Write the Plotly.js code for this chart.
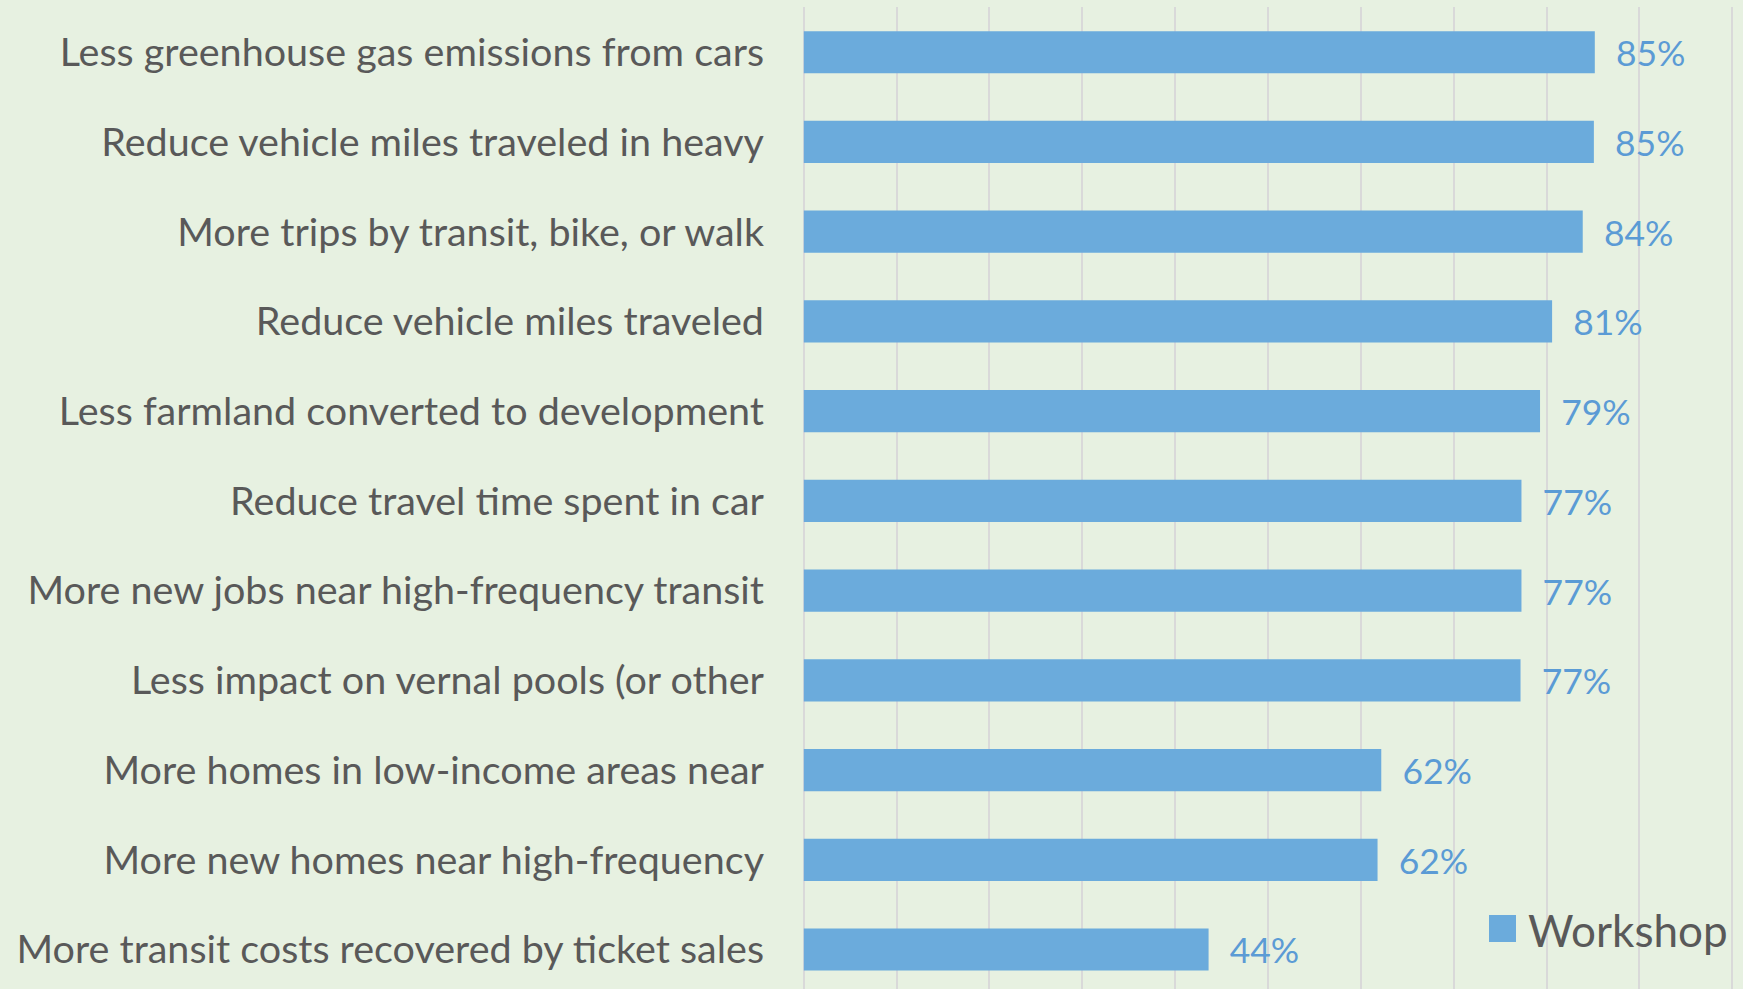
<!DOCTYPE html>
<html>
<head>
<meta charset="utf-8">
<script src="https://cdn.plot.ly/plotly-3.0.1.min.js"></script>
<style>
  html, body { margin: 0; padding: 0; background: #E7F1E1; }
  #chart { width: 1743px; height: 989px; }
</style>
</head>
<body>
<div id="chart"></div>
<script>
const categories = [
  "Less greenhouse gas emissions from cars",
  "Reduce vehicle miles traveled in heavy",
  "More trips by transit, bike, or walk",
  "Reduce vehicle miles traveled",
  "Less farmland converted to development",
  "Reduce travel time spent in car",
  "More new jobs near high-frequency transit",
  "Less impact on vernal pools (or other",
  "More homes in low-income areas near",
  "More new homes near high-frequency",
  "More transit costs recovered by ticket sales"
];
const workshopValues = [0.852, 0.851, 0.839, 0.806, 0.793, 0.773, 0.773, 0.772, 0.622, 0.618, 0.436];
const seriesName = "Workshop";

const bg = "#E7F1E1";
const barColor = "#6BABDC";
const labelColor = "#5B9BD5";
const textColor = "#595959";
const fontFamily = "Lato, 'Open Sans', sans-serif";

const plotL = 801, plotR = 1735, plotT = 7, plotB = 989;
const px = (x) => (x - plotL) / (plotR - plotL);
const py = (y) => (plotB - y) / (plotB - plotT);

const trace = {
  type: "bar",
  orientation: "h",
  name: seriesName,
  y: categories,
  x: workshopValues,
  marker: { color: barColor, line: { width: 0 } },
  texttemplate: "\u00a0\u00a0%{x:.0%}",
  textposition: "outside",
  cliponaxis: false,
  textfont: { family: fontFamily, size: 39.5, color: labelColor },
  showlegend: false,
  hoverinfo: "skip"
};

const layout = {
  width: 1743,
  height: 989,
  paper_bgcolor: bg,
  plot_bgcolor: bg,
  margin: { l: plotL, r: 1743 - plotR, t: plotT, b: 989 - plotB, pad: 0 },
  bargap: 0.53,
  showlegend: false,
  font: { family: fontFamily, color: textColor },
  xaxis: {
    range: [-0.003, 1.003],
    dtick: 0.1,
    tick0: 0,
    showgrid: true,
    gridcolor: "#D9D9D9",
    gridwidth: 2,
    zeroline: false,
    showticklabels: false,
    showline: false,
    ticks: "",
    fixedrange: true
  },
  yaxis: {
    type: "category",
    range: [10.44, -0.504],
    showgrid: false,
    zeroline: false,
    showline: false,
    ticks: "",
    ticklabelstandoff: 36,
    tickfont: { family: fontFamily, size: 39.5, color: textColor },
    automargin: false,
    fixedrange: true
  },
  shapes: [
    {
      type: "rect", xref: "paper", yref: "paper",
      x0: px(1489), x1: px(1516),
      y0: py(942), y1: py(915),
      fillcolor: barColor, line: { width: 0 }
    }
  ],
  annotations: [
    {
      xref: "paper", yref: "paper",
      x: px(1526), y: py(930),
      xanchor: "left", yanchor: "middle",
      text: seriesName, showarrow: false,
      font: { family: fontFamily, size: 44, color: textColor }
    }
  ]
};

Plotly.newPlot("chart", [trace], layout, { displayModeBar: false, staticPlot: true });
</script>
</body>
</html>
